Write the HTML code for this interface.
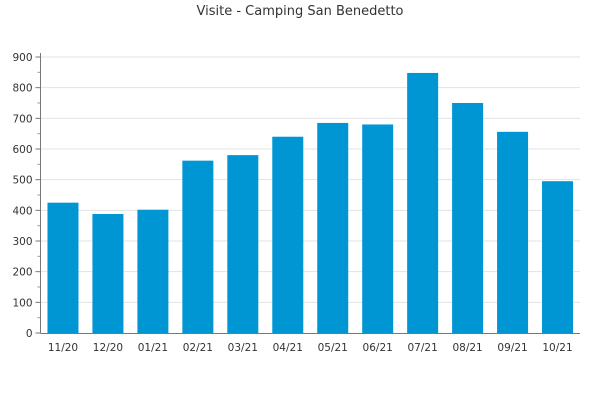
<!DOCTYPE html>
<html><head><meta charset="utf-8"><style>
body{margin:0;background:#fff;}
svg{display:block;font-family:"DejaVu Sans","Liberation Sans",sans-serif;}
</style></head><body>
<svg id="chart" width="600" height="400">
<text x="300" y="15" text-anchor="middle" font-size="13" fill="#333">Visite - Camping San Benedetto</text>
<g id="grid"></g><g id="bars"></g><g id="axes"></g>
</svg>
<script>
const categories=["11/20","12/20","01/21","02/21","03/21","04/21","05/21","06/21","07/21","08/21","09/21","10/21"];
const values=[425,388,402,562,580,640,685,680,848,750,656,495];
const yTicks=[0,100,200,300,400,500,600,700,800,900];
const NS="http://www.w3.org/2000/svg";
const X0=40.5,X1=580,Y0=333,Y1=57,YMAX=900;
const cw=(X1-X0)/categories.length;
function y(v){return Y0-(v/YMAX)*(Y0-Y1);}
function xc(i){return X0+cw*i+cw/2;}
function mk(t,a,p){const e=document.createElementNS(NS,t);for(const k in a)e.setAttribute(k,a[k]);p.appendChild(e);return e;}
const grid=document.getElementById('grid'),bars=document.getElementById('bars'),axes=document.getElementById('axes');
yTicks.forEach(t=>{
  if(t>0){const g=mk('line',{x1:X0,x2:X1,y1:y(t),y2:y(t),stroke:'#e3e3e3'},grid);
  
  }
  const tk=mk('line',{x1:X0-5,x2:X0,y1:y(t),y2:y(t),stroke:'#777'},axes);
  
  
  const l=mk('text',{x:X0-8,y:y(t)+4,'text-anchor':'end','font-size':'10.5',fill:'#333'},axes);
  l.textContent=t;
  
  
  if(t<YMAX){const m=mk('line',{x1:X0-3,x2:X0,y1:y(t+50),y2:y(t+50),stroke:'#999'},axes);
  
  }
});
values.forEach((v,i)=>{
  const bw=31;
  const r=mk('rect',{x:xc(i)-bw/2,y:y(v),width:bw,height:Y0-y(v),fill:'#0096d3'},bars);
  
  
  const l=mk('text',{x:xc(i),y:Y0+18,'text-anchor':'middle','font-size':'10.5',fill:'#333'},axes);
  l.textContent=categories[i];
  
  
});
const ya=mk('line',{x1:X0,x2:X0,y1:Y1-4,y2:Y0,stroke:'#777'},axes);


const xa=mk('line',{x1:X0,x2:X1,y1:Y0+0.5,y2:Y0+0.5,stroke:'#777'},axes);


</script>
</body></html>
